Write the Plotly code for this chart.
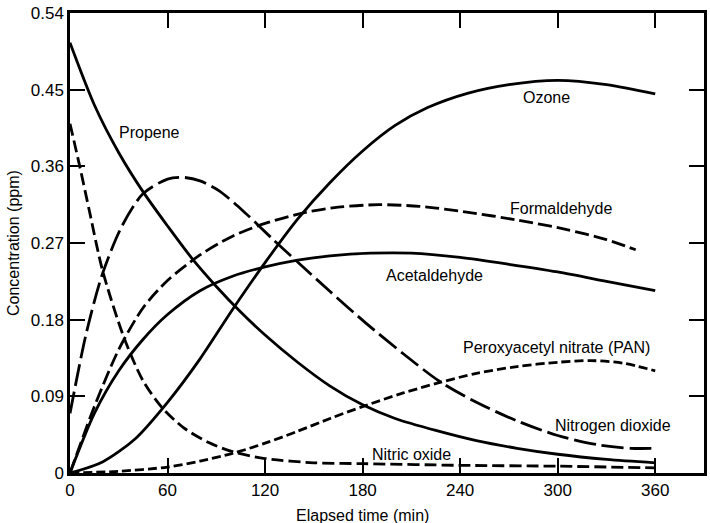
import plotly.graph_objects as go

# ---- data ----
propene_x = [0, 15, 30, 45, 60, 75, 90, 105, 120, 140, 160, 180, 200, 225, 250, 275, 300, 330, 360]
propene_y = [0.505, 0.432, 0.376, 0.33, 0.29, 0.252, 0.219, 0.189, 0.162, 0.13, 0.102, 0.08, 0.064, 0.05, 0.038, 0.029, 0.022, 0.016, 0.012]

ozone_x = [0, 20, 40, 60, 80, 100, 120, 140, 160, 180, 200, 220, 245, 270, 300, 330, 360]
ozone_y = [0, 0.013, 0.04, 0.083, 0.134, 0.192, 0.247, 0.298, 0.341, 0.378, 0.408, 0.429, 0.446, 0.456, 0.461, 0.456, 0.445]

acet_x = [0, 15, 30, 45, 60, 80, 100, 120, 140, 160, 185, 210, 240, 270, 300, 330, 360]
acet_y = [0, 0.07, 0.12, 0.157, 0.186, 0.214, 0.231, 0.242, 0.25, 0.255, 0.258, 0.258, 0.253, 0.245, 0.236, 0.225, 0.214]

form_x = [0, 15, 30, 45, 60, 80, 100, 120, 145, 165, 190, 215, 245, 275, 305, 330, 348]
form_y = [0, 0.078, 0.145, 0.194, 0.226, 0.256, 0.278, 0.293, 0.306, 0.312, 0.315, 0.313, 0.306, 0.297, 0.286, 0.274, 0.262]

no2_x = [0, 10, 20, 32, 45, 60, 70, 80, 92, 108, 125, 141, 160, 182, 205, 227, 250, 274, 300, 325, 345, 360]
no2_y = [0.07, 0.164, 0.234, 0.29, 0.328, 0.345, 0.347, 0.343, 0.331, 0.305, 0.274, 0.246, 0.213, 0.176, 0.14, 0.108, 0.083, 0.062, 0.044, 0.033, 0.029, 0.029]

no_x = [0, 6, 12, 20, 33, 45, 57, 70, 85, 100, 120, 150, 180, 240, 300, 360]
no_y = [0.41, 0.36, 0.307, 0.238, 0.16, 0.108, 0.076, 0.053, 0.036, 0.025, 0.017, 0.012, 0.011, 0.009, 0.008, 0.006]

pan_x = [0, 30, 60, 80, 100, 120, 140, 160, 180, 205, 227, 250, 275, 300, 320, 340, 360]
pan_y = [0, 0.002, 0.007, 0.014, 0.023, 0.035, 0.049, 0.064, 0.078, 0.094, 0.106, 0.117, 0.125, 0.13, 0.132, 0.129, 0.12]

x_ticks = [0, 60, 120, 180, 240, 300, 360]
y_ticks = [0, 0.09, 0.18, 0.27, 0.36, 0.45, 0.54]
y_tick_text = ["0", "0.09", "0.18", "0.27", "0.36", "0.45", "0.54"]

labels = ["Propene", "Ozone", "Formaldehyde", "Acetaldehyde",
          "Peroxyacetyl nitrate (PAN)", "Nitrogen dioxide", "Nitric oxide"]
label_x = [49, 293, 302, 224, 299, 334, 210]
label_y = [0.40, 0.441, 0.31, 0.232, 0.147, 0.056, 0.022]

FONT = "Liberation Sans, Arial, sans-serif"
W = 2.8

fig = go.Figure()
series = [
    (propene_x, propene_y, "solid"),
    (ozone_x, ozone_y, "solid"),
    (acet_x, acet_y, "solid"),
    (form_x, form_y, "14px,5px"),
    (no2_x, no2_y, "22px,6px"),
    (no_x, no_y, "12px,5px"),
    (pan_x, pan_y, "9px,4px"),
]
for xs, ys, dash in series:
    fig.add_trace(go.Scatter(x=xs, y=ys, mode="lines",
                             line=dict(color="black", width=W, dash=dash, shape="spline", smoothing=0.8),
                             showlegend=False, hoverinfo="skip"))

for t, lx, ly in zip(labels, label_x, label_y):
    fig.add_annotation(x=lx, y=ly, xref="x", yref="y", text=t, showarrow=False,
                       font=dict(family=FONT, size=16, color="black"))

fig.add_annotation(x=180, y=0, xref="x", yref="paper", yanchor="top", yshift=-32,
                   text="Elapsed time (min)", showarrow=False,
                   font=dict(family=FONT, size=16, color="black"))
fig.add_annotation(x=0, y=0.5, xref="paper", yref="paper", xanchor="center", yanchor="middle",
                   xshift=-57, text="Concentration (ppm)", textangle=-90, showarrow=False,
                   font=dict(family=FONT, size=16, color="black"))

axis_common = dict(showgrid=False, zeroline=False, showline=True, linecolor="black",
                   linewidth=2.5, mirror="ticks", ticks="inside", ticklen=15,
                   tickwidth=2, tickcolor="black",
                   tickfont=dict(family=FONT, size=17, color="black"))
fig.update_xaxes(range=[0, 390], tickvals=x_ticks, ticktext=[str(v) for v in x_ticks], **axis_common)
fig.update_yaxes(range=[0, 0.54], tickvals=y_ticks, ticktext=y_tick_text, **axis_common)

fig.update_layout(width=710, height=523, margin=dict(l=70, r=3, t=13, b=50),
                  paper_bgcolor="white", plot_bgcolor="white",
                  font=dict(family=FONT, size=16, color="black"))

fig.write_html("out.html")
